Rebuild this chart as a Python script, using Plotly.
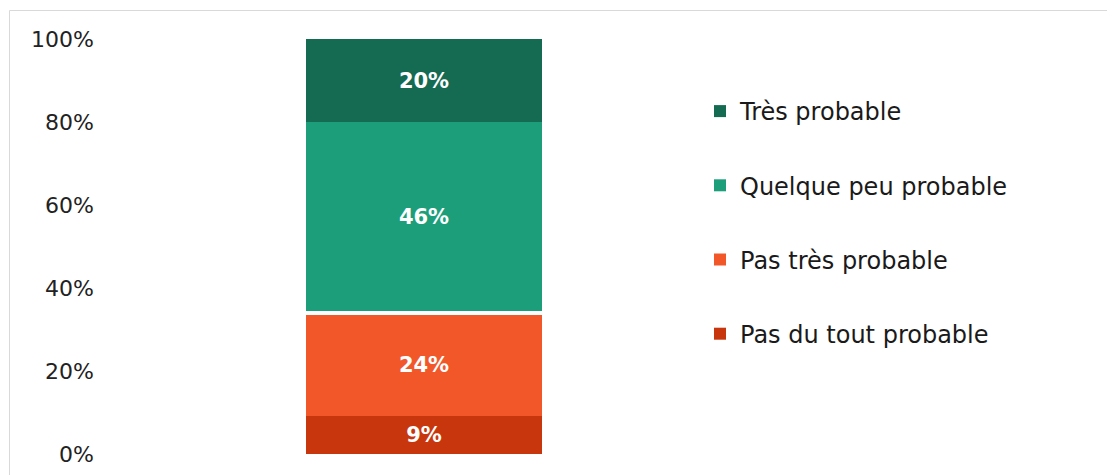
import plotly.graph_objects as go

# Data
category = [""]
pas_du_tout = [9.2]
pas_tres = [24.4]
quelque_peu = [45.6]
tres = [20.0]
separator = [0.8]  # thin white gap visible between orange and green segments
tick_vals = [0, 20, 40, 60, 80, 100]
tick_text = ["0%", "20%", "40%", "60%", "80%", "100%"]

colors = {
    "Pas du tout probable": "#C8360E",
    "Pas très probable": "#F2572A",
    "Quelque peu probable": "#1C9E7A",
    "Très probable": "#156A52",
}

FONT = "DejaVu Sans"

W, H = 1107, 475
ML, MR, MT, MB = 100, 359, 39, 21

fig = go.Figure()

def add_series(name, vals, group, rank):
    fig.add_trace(go.Bar(
        x=category, y=vals, name=name,
        marker=dict(color=colors[name], line=dict(width=0)),
        texttemplate="%{y:.0f}%", textposition="inside",
        insidetextanchor="middle", constraintext="none",
        textfont=dict(family=FONT, size=21, color="white", weight="bold"),
        legendgroup=group, legendrank=rank, hoverinfo="name+y",
    ))

add_series("Pas du tout probable", pas_du_tout, "g4", 4)
add_series("Pas très probable", pas_tres, "g3", 3)
fig.add_trace(go.Bar(
    x=category, y=separator, name="", showlegend=False,
    marker=dict(color="white", line=dict(width=0)), hoverinfo="skip",
))
add_series("Quelque peu probable", quelque_peu, "g2", 2)
add_series("Très probable", tres, "g1", 1)

pw = W - ML - MR
ph = H - MT - MB

def px_x(p):
    return (p - ML) / pw

def px_y(p):
    return (H - MB - p) / ph

fig.update_layout(
    width=W, height=H,
    margin=dict(l=ML, r=MR, t=MT, b=MB, pad=0),
    barmode="stack", bargap=0.636,
    plot_bgcolor="white", paper_bgcolor="white",
    font=dict(family=FONT, size=22, color="#222222"),
    showlegend=True,
    legend=dict(
        traceorder="grouped", tracegroupgap=40,
        x=px_x(700), xanchor="left", y=px_y(89), yanchor="top",
        font=dict(family=FONT, size=24, color="#1a1a1a"),
        bgcolor="rgba(0,0,0,0)", borderwidth=0,
    ),
    xaxis=dict(showticklabels=False, showgrid=False, zeroline=False, showline=False, ticks=""),
    yaxis=dict(range=[0, 100], tickvals=tick_vals, ticktext=tick_text,
               showgrid=False, zeroline=False, showline=False, ticks="",
               ticklabelstandoff=5, automargin=False,
               tickfont=dict(family=FONT, size=22, color="#222222")),
    shapes=[dict(type="rect", xref="paper", yref="paper",
                 x0=px_x(9.5), x1=px_x(W + 20), y0=px_y(H + 20), y1=px_y(10.5),
                 line=dict(color="#D9D9D9", width=1), fillcolor="rgba(0,0,0,0)",
                 layer="below")],
)

fig.write_html("out.html", config={"displayModeBar": False},
               post_script="document.body.style.margin='0';document.body.style.overflow='hidden';")
